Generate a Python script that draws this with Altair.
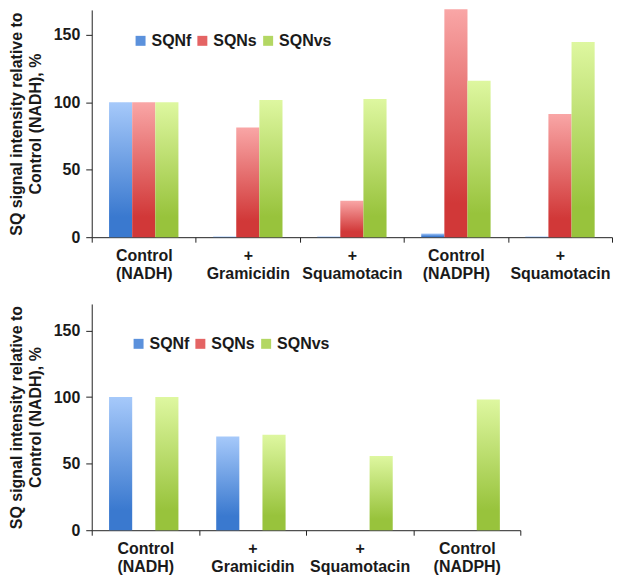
import json
import altair as alt
import pandas as pd

series = ["SQNf", "SQNs", "SQNvs"]

top_labels = ["Control|(NADH)", "+|Gramicidin", "+|Squamotacin", "Control|(NADPH)", "+|Squamotacin"]
top_sqnf = [100, 0.5, 0.5, 2.7, 0.5]
top_sqns = [100, 81.3, 27.1, 169, 91.4]
top_sqnvs = [100, 101.7, 102.5, 116, 144.8]

bot_labels = ["Control|(NADH)", "+|Gramicidin", "+|Squamotacin", "Control|(NADPH)"]
bot_sqnf = [100, 70.5, 0, 0]
bot_sqns = [0, 0, 0, 0]
bot_sqnvs = [100, 71.8, 55.8, 98.3]

light = ["#a6c9fa", "#f9a6a6", "#def7a0"]
dark = ["#3a79cf", "#d13838", "#98c33c"]
legend_colors = ["#5b91dc", "#e46464", "#b3d763"]

FONT = "Liberation Sans"
TXT = "#1a1a1a"


def gradient(i):
    return alt.Gradient(
        gradient="linear",
        stops=[
            alt.GradientStop(color=light[i], offset=0),
            alt.GradientStop(color=dark[i], offset=0.85),
            alt.GradientStop(color=dark[i], offset=1),
        ],
        x1=0, x2=0, y1=0, y2=1,
    )


def panel(labels, vals, width, height, ymax, lx, ly):
    rows = []
    for si, s in enumerate(series):
        for ci, v in enumerate(vals[si]):
            rows.append({"cat": ci, "series": s, "value": v, "zero": 0})
    df = pd.DataFrame(rows)
    n = len(labels)
    label_expr = (
        f"(isNumber(datum.value) && datum.value >= 0 && datum.value < {n}) ? "
        "split(" + json.dumps(labels) + "[datum.value], '|') : ''"
    )
    x = alt.X(
        "cat:O",
        scale=alt.Scale(paddingInner=0, paddingOuter=0),
        axis=alt.Axis(
            title=None, labelAngle=0, labelExpr=label_expr, tickBand="extent",
            labelFont=FONT, labelFontSize=16, labelFontWeight="bold", labelColor=TXT,
            labelLineHeight=18, labelPadding=5, tickSize=5, domainColor="#222",
            tickColor="#222", labelBaseline="top",
        ),
    )
    xo = alt.XOffset(
        "series:N",
        scale=alt.Scale(domain=series, paddingOuter=0.75, paddingInner=0),
    )
    yscale = alt.Scale(domain=[0, ymax], nice=False, zero=True)
    yaxis = alt.Axis(
        title=["SQ signal intensity relative to", "Control (NADH), %"],
        values=[0, 50, 100, 150], grid=False,
        labelFont=FONT, labelFontSize=16, labelFontWeight="bold", labelColor=TXT,
        titleFont=FONT, titleFontSize=16, titleFontWeight="bold", titleColor=TXT,
        titleLineHeight=19, titlePadding=10, labelPadding=6, tickSize=6,
        domainColor="#222", tickColor="#222",
    )
    base = alt.Chart(df)
    layers = []
    for si, s in enumerate(series):
        layers.append(
            base.transform_filter(alt.datum.series == s)
            .mark_bar(color=gradient(si))
            .encode(x=x, xOffset=xo, y=alt.Y("value:Q", scale=yscale, axis=yaxis))
        )
    legend_layer = base.mark_bar().encode(
        x=x, xOffset=xo,
        y=alt.Y("zero:Q", scale=yscale, axis=yaxis),
        color=alt.Color(
            "series:N",
            scale=alt.Scale(domain=series, range=legend_colors),
            legend=alt.Legend(
                title=None, orient="none", legendX=lx, legendY=ly,
                direction="horizontal", symbolType="square", symbolSize=100,
                symbolStrokeWidth=0, labelFont=FONT, labelFontSize=16,
                labelFontWeight="bold", labelColor=TXT, labelOffset=3,
                columnPadding=3, symbolOpacity=1, gridAlign="none",
            ),
        ),
    )
    return alt.layer(legend_layer, *layers).properties(width=width, height=height)


top = panel(top_labels, [top_sqnf, top_sqns, top_sqnvs], 522, 228, 168.5, 41, 23)
bottom = panel(bot_labels, [bot_sqnf, bot_sqns, bot_sqnvs], 430, 227, 170, 39, 32)

chart = (
    alt.vconcat(top, bottom, spacing=23)
    .resolve_scale(color="independent", x="independent")
    .resolve_legend(color="independent")
    .properties(padding={"left": 0, "top": 0, "right": 0, "bottom": 0})
    .configure_view(stroke=None)
)

chart.save("out.html", embed_options={"renderer": "svg", "actions": False})
